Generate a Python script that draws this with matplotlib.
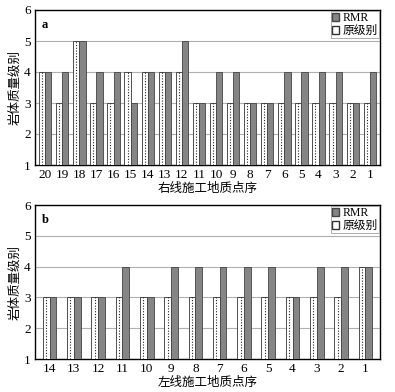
import numpy as np
import matplotlib
matplotlib.use("Agg")
import matplotlib.pyplot as plt
from matplotlib.patches import Patch

plt.rcParams['font.family'] = ['Liberation Serif', 'Noto Sans CJK SC']

# panel a: right line
labels_a = [20, 19, 18, 17, 16, 15, 14, 13, 12, 11, 10, 9, 8, 7, 6, 5, 4, 3, 2, 1]
orig_a = [4, 3, 5, 3, 3, 4, 4, 4, 4, 3, 3, 3, 3, 3, 3, 3, 3, 3, 3, 3]
rmr_a = [4, 4, 5, 4, 4, 3, 4, 4, 5, 3, 4, 4, 3, 3, 4, 4, 4, 4, 3, 4]

# panel b: left line
labels_b = [14, 13, 12, 11, 10, 9, 8, 7, 6, 5, 4, 3, 2, 1]
orig_b = [3, 3, 3, 3, 3, 3, 3, 3, 3, 3, 3, 3, 3, 4]
rmr_b = [3, 3, 3, 4, 3, 4, 4, 4, 4, 4, 3, 4, 4, 4]

fig = plt.figure(figsize=(3.95, 3.92), dpi=100)
ax1 = fig.add_axes([35/395, 1-165/392, 345/395, 155/392])
ax2 = fig.add_axes([35/395, 1-359/392, 345/395, 154/392])

def panel(ax, labels, orig, rmr, w, tag, xlab):
    x = np.arange(len(labels))
    ax.bar(x - w/2, np.array(orig) - 1, w, bottom=1, color='white',
           edgecolor='#333333', linewidth=0.6, zorder=3)
    ax.vlines(x - w/2, 1, orig, colors='#222222', linestyles=(0, (1, 1.5)),
              linewidth=0.8, zorder=4)
    ax.bar(x + w/2, np.array(rmr) - 1, w, bottom=1, color='#858585',
           edgecolor='#444444', linewidth=0.6, zorder=3)
    ax.set_ylim(1, 6)
    ax.set_xlim(-0.6, len(labels) - 0.4)
    ax.set_yticks([1, 2, 3, 4, 5, 6])
    ax.set_xticks(x)
    ax.set_xticklabels(labels)
    ax.tick_params(labelsize=9.5, length=0, pad=3)
    ax.yaxis.grid(True, color='#b0b0b0', linewidth=0.8, zorder=0)
    for s in ax.spines.values():
        s.set_linewidth(1.0)
    ax.text(0.02, 0.94, tag, transform=ax.transAxes, fontsize=9,
            fontweight='bold', va='top')
    ax.set_ylabel('岩体质量级别', fontsize=9, labelpad=2)
    ax.set_xlabel(xlab, fontsize=9, labelpad=1)
    h = [Patch(facecolor='#858585', edgecolor='#444444', label='RMR'),
         Patch(facecolor='white', edgecolor='#333333', label='原级别')]
    leg = ax.legend(handles=h, loc='upper right', fontsize=8.5, frameon=True,
                    fancybox=False, edgecolor='#888888', borderpad=0.1,
                    handlelength=0.6, handleheight=0.6, handletextpad=0.3,
                    labelspacing=0.05, borderaxespad=0.1)
    leg.get_frame().set_linewidth(0.6)

panel(ax1, labels_a, orig_a, rmr_a, 0.36, 'a', '右线施工地质点序')
panel(ax2, labels_b, orig_b, rmr_b, 0.28, 'b', '左线施工地质点序')

fig.savefig('out.png', dpi=100)
